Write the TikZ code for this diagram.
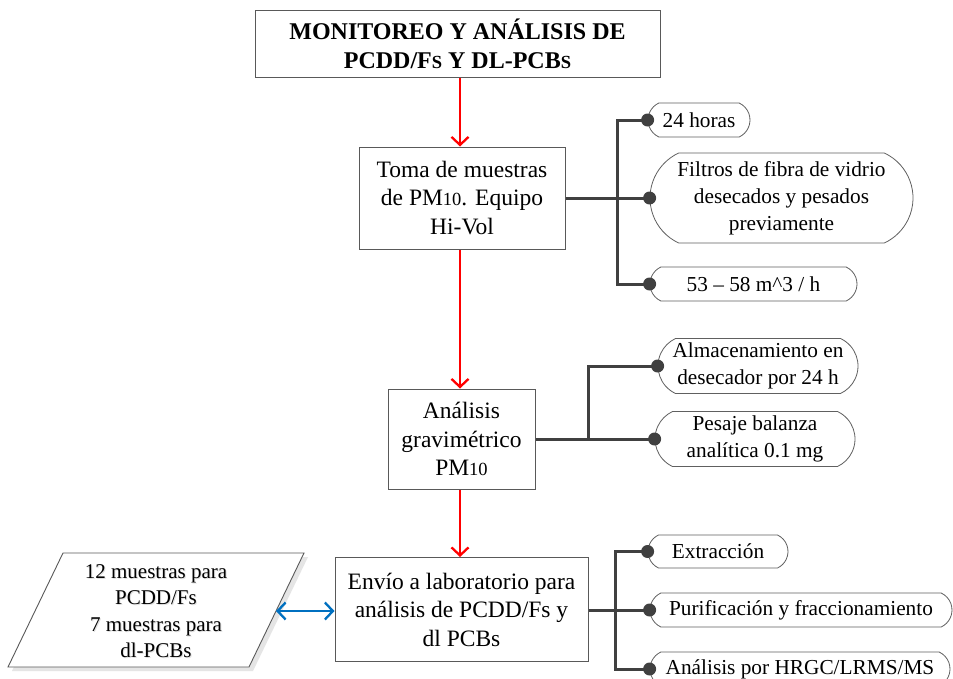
\documentclass[tikz,border=0pt]{standalone}
\usepackage{fontspec}
\setmainfont{Liberation Serif}
\usetikzlibrary{arrows.meta,shapes.misc}
\definecolor{conncol}{HTML}{404040}
\definecolor{bluearr}{HTML}{0070C0}
\definecolor{boxline}{HTML}{595959}
\newcommand{\bigtxt}{\fontsize{23.5}{28.5}\selectfont}
\newcommand{\titletxt}{\fontsize{24}{29}\selectfont\bfseries}
\newcommand{\pilltxt}{\fontsize{21.3}{27}\selectfont}
\newcommand{\partxt}{\fontsize{21}{26.5}\selectfont}
\newcommand{\smsz}{\fontsize{18.5}{20}\selectfont}
\begin{document}
\begin{tikzpicture}[x=1pt,y=-1pt,
  boxnode/.style={draw=boxline,line width=1pt,fill=white,align=center,font=\bigtxt,inner sep=0pt},
  pill/.style={rounded rectangle,rounded rectangle arc length=130,draw=gray!75!black,line width=0.8pt,fill=white,align=center,font=\pilltxt,inner sep=0pt},
  conn/.style={conncol,line width=3pt},
  flow/.style={red,line width=2.3pt,-{Straight Barb[length=8pt,width=17pt]}},
  dblflow/.style={bluearr,line width=2.3pt,{Straight Barb[length=8pt,width=17pt]}-{Straight Barb[length=8pt,width=17pt]}},
  dot/.style={conncol}
]
\useasboundingbox (0,0) rectangle (953,678);
\fill[white] (0,0) rectangle (953,678);

% main boxes
\node[boxnode,minimum width=405pt,minimum height=67pt,font=\titletxt] (title) at (457.5,43.5)
  {MONITOREO Y ANÁLISIS DE\\PCDD/F{\smsz S} Y DL-PCB{\smsz S}};
\node[boxnode,minimum width=206pt,minimum height=102pt] (toma) at (462,198)
  {Toma de muestras\\de PM{\smsz 10}. Equipo\\Hi-Vol};
\node[boxnode,minimum width=147pt,minimum height=100pt] (grav) at (461.5,439)
  {Análisis\\gravimétrico\\PM{\smsz 10}};
\node[boxnode,minimum width=253pt,minimum height=104pt] (envio) at (461.5,609.5)
  {Envío a laboratorio para\\análisis de PCDD/Fs y\\dl PCBs};
\coordinate (axis) at (460,0);

% parallelogram
\fill[gray!20] (67,557) -- (308,557) -- (253,671) -- (12,671) -- cycle;
\draw[boxline,line width=0.9pt,fill=white] (63,553) -- (304,553) -- (249,667) -- (8,667) -- cycle;
\node[align=center,font=\partxt,text=gray!25] at (157,612)
  {12 muestras para\\PCDD/Fs\\7 muestras para\\dl-PCBs};
\node[align=center,font=\partxt] (samples) at (156,611)
  {12 muestras para\\PCDD/Fs\\7 muestras para\\dl-PCBs};
\coordinate (sampright) at (276,611);

% pills
\node[pill,minimum width=102pt,minimum height=34pt] (hor) at (699,120) {24 horas};
\node[pill,minimum width=263pt,minimum height=90pt] (fil) at (781.5,198)
  {Filtros de fibra de vidrio\\desecados y pesados\\previamente};
\node[pill,minimum width=207pt,minimum height=34pt] (flow) at (753.5,284) {53 – 58 m\^{}3 / h};
\node[pill,minimum width=200pt,minimum height=55pt] (alm) at (758,366)
  {Almacenamiento en\\desecador por 24 h};
\node[pill,minimum width=200pt,minimum height=55pt] (pes) at (755,439)
  {Pesaje balanza\\analítica 0.1 mg};
\node[pill,minimum width=140pt,minimum height=33pt] (ext) at (718,551.5) {Extracción};
\node[pill,minimum width=302pt,minimum height=34pt] (pur) at (801,610) {Purificación y fraccionamiento};
\node[pill,minimum width=300pt,minimum height=34pt] (hrgc) at (800,669) {Análisis por HRGC/LRMS/MS};

% junction coordinates
\coordinate (j1) at (617,198);
\coordinate (j2) at (588,439);
\coordinate (j3) at (615,610);

% connectors
\draw[conn] (toma.east) -- (fil.west);
\draw[conn] (hor.west) -| (j1) |- (flow.west);
\draw[conn] (grav.east) -- (pes.west);
\draw[conn] (j2) |- (alm.west);
\draw[conn] (envio.east |- pur.west) -- (pur.west);
\draw[conn] (ext.west) -| (j3) |- (hrgc.west);
\foreach \n in {hor,fil,flow,alm,pes,ext,pur,hrgc}
  \fill[dot] (\n.west) circle (6.5pt);

% flow arrows
\draw[flow] (title.south -| axis) -- (toma.north -| axis);
\draw[flow] (toma.south -| axis) -- (grav.north -| axis);
\draw[flow] (grav.south -| axis) -- (envio.north -| axis);
\draw[dblflow] (sampright) -- (envio.west |- sampright);
\end{tikzpicture}
\end{document}
